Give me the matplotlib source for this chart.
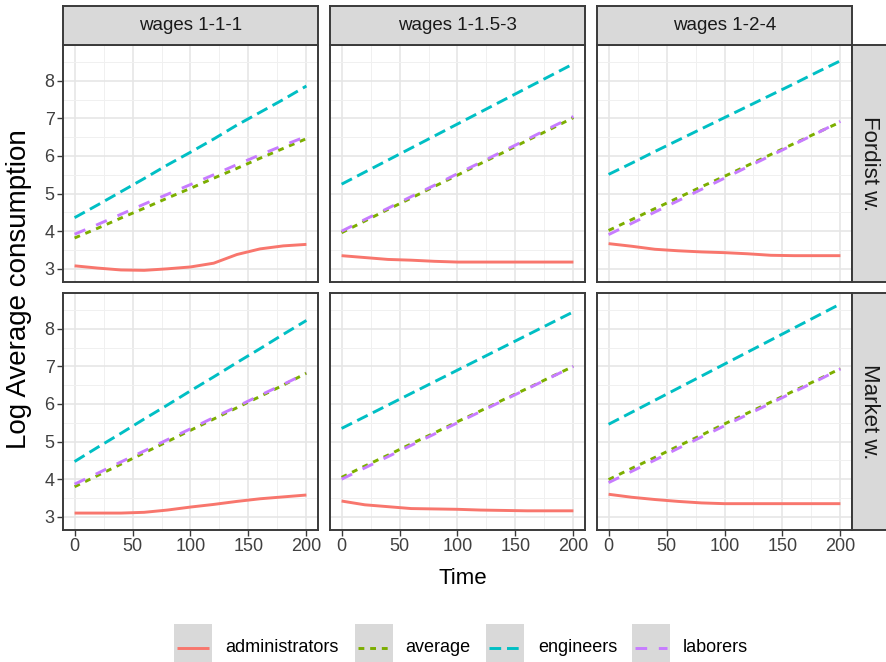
import matplotlib
matplotlib.use("Agg")
import matplotlib.pyplot as plt
from matplotlib.patches import Rectangle
from matplotlib.lines import Line2D

plt.rcParams['font.family'] = ['Liberation Sans', 'DejaVu Sans']

time = [0, 20, 40, 60, 80, 100, 120, 140, 160, 180, 200]
wage_labels = ['wages 1-1-1', 'wages 1-1.5-3', 'wages 1-2-4']
regime_labels = ['Fordist w.', 'Market w.']
groups = ['administrators', 'average', 'engineers', 'laborers']

# Fordist w.
f111_adm = [3.08, 3.02, 2.97, 2.96, 3.00, 3.05, 3.15, 3.38, 3.53, 3.61, 3.65]
f111_avg = [3.82, 4.08, 4.35, 4.61, 4.88, 5.14, 5.41, 5.67, 5.94, 6.20, 6.46]
f111_eng = [4.36, 4.70, 5.05, 5.40, 5.76, 6.10, 6.45, 6.82, 7.16, 7.50, 7.86]
f111_lab = [3.92, 4.18, 4.45, 4.72, 4.98, 5.24, 5.50, 5.77, 6.03, 6.28, 6.52]

f153_adm = [3.35, 3.30, 3.25, 3.23, 3.20, 3.18, 3.18, 3.18, 3.18, 3.18, 3.18]
f153_avg = [3.96, 4.27, 4.58, 4.88, 5.19, 5.49, 5.80, 6.10, 6.41, 6.71, 7.02]
f153_eng = [5.25, 5.57, 5.89, 6.21, 6.53, 6.85, 7.17, 7.49, 7.81, 8.13, 8.45]
f153_lab = [4.00, 4.31, 4.61, 4.92, 5.22, 5.53, 5.83, 6.14, 6.44, 6.75, 7.05]

f124_adm = [3.67, 3.60, 3.52, 3.48, 3.45, 3.43, 3.40, 3.36, 3.35, 3.35, 3.35]
f124_avg = [4.02, 4.31, 4.60, 4.89, 5.18, 5.46, 5.75, 6.04, 6.33, 6.62, 6.90]
f124_eng = [5.51, 5.81, 6.12, 6.42, 6.72, 7.02, 7.32, 7.62, 7.92, 8.23, 8.53]
f124_lab = [3.91, 4.21, 4.51, 4.81, 5.11, 5.41, 5.71, 6.01, 6.31, 6.61, 6.92]

# Market w.
m111_adm = [3.10, 3.10, 3.10, 3.12, 3.18, 3.26, 3.33, 3.41, 3.48, 3.53, 3.58]
m111_avg = [3.80, 4.10, 4.40, 4.70, 5.00, 5.30, 5.60, 5.90, 6.20, 6.50, 6.82]
m111_eng = [4.47, 4.85, 5.22, 5.60, 5.97, 6.35, 6.72, 7.10, 7.47, 7.85, 8.22]
m111_lab = [3.87, 4.16, 4.46, 4.75, 5.05, 5.34, 5.64, 5.93, 6.23, 6.52, 6.82]

m153_adm = [3.42, 3.32, 3.27, 3.22, 3.21, 3.20, 3.18, 3.17, 3.16, 3.16, 3.16]
m153_avg = [4.05, 4.35, 4.64, 4.94, 5.23, 5.53, 5.82, 6.12, 6.41, 6.71, 7.00]
m153_eng = [5.35, 5.66, 5.97, 6.28, 6.59, 6.90, 7.21, 7.52, 7.83, 8.14, 8.45]
m153_lab = [4.00, 4.30, 4.60, 4.90, 5.20, 5.50, 5.80, 6.10, 6.40, 6.70, 7.00]

m124_adm = [3.60, 3.52, 3.46, 3.41, 3.37, 3.35, 3.35, 3.35, 3.35, 3.35, 3.35]
m124_avg = [3.99, 4.29, 4.58, 4.88, 5.17, 5.47, 5.76, 6.05, 6.35, 6.64, 6.94]
m124_eng = [5.46, 5.78, 6.10, 6.42, 6.74, 7.06, 7.38, 7.70, 8.02, 8.34, 8.66]
m124_lab = [3.91, 4.21, 4.51, 4.82, 5.12, 5.42, 5.72, 6.02, 6.32, 6.62, 6.93]

panels = [
    [[f111_adm, f111_avg, f111_eng, f111_lab],
     [f153_adm, f153_avg, f153_eng, f153_lab],
     [f124_adm, f124_avg, f124_eng, f124_lab]],
    [[m111_adm, m111_avg, m111_eng, m111_lab],
     [m153_adm, m153_avg, m153_eng, m153_lab],
     [m124_adm, m124_avg, m124_eng, m124_lab]],
]

# ggplot hue palette + default linetypes (solid, 22, 42, 44)
colors = ['#F8766D', '#7CAE00', '#00BFC4', '#C77CFF']
dashes = [None, (2, 2), (4, 2), (4, 4)]
LW = 2.1

W, H = 887, 662
fig = plt.figure(figsize=(W / 100, H / 100), dpi=100)


def px_rect(l, t, w, h):
    return [l / W, 1 - (t + h) / H, w / W, h / H]


col_left = [63, 330, 597]
row_top = [45, 293]
pw, ph = 255, 237
border = '#3A3A3A'

for r in range(2):
    for c in range(3):
        ax = fig.add_axes(px_rect(col_left[c], row_top[r], pw, ph))
        for k in range(4):
            line, = ax.plot(time, panels[r][c][k], color=colors[k], lw=LW,
                            solid_capstyle='butt', dash_capstyle='butt')
            if dashes[k] is not None:
                line.set_dashes(dashes[k])
        ax.set_xlim(-10, 210)
        ax.set_ylim(2.65, 8.95)
        ax.set_xticks([0, 50, 100, 150, 200])
        ax.set_xticks([25, 75, 125, 175], minor=True)
        ax.set_yticks([3, 4, 5, 6, 7, 8])
        ax.set_yticks([3.5, 4.5, 5.5, 6.5, 7.5, 8.5], minor=True)
        ax.grid(which='major', color='#E6E6E6', lw=1.2)
        ax.grid(which='minor', color='#F0F0F0', lw=0.7)
        ax.set_axisbelow(True)
        for s in ax.spines.values():
            s.set_color(border)
            s.set_linewidth(1.4)
        ax.tick_params(which='minor', length=0)
        ax.tick_params(which='major', color=border, length=4, width=1,
                       labelsize=13, labelcolor='#404040', pad=2)
        if c != 0:
            ax.tick_params(axis='y', left=False, labelleft=False)
        if r != 1:
            ax.tick_params(axis='x', bottom=False, labelbottom=False)

        # strips
        if r == 0:
            sax = fig.add_axes(px_rect(col_left[c], 6, pw, 39))
            sax.set_facecolor('#D9D9D9')
            sax.set_xticks([])
            sax.set_yticks([])
            for s in sax.spines.values():
                s.set_color(border)
                s.set_linewidth(1.4)
            sax.text(0.5, 0.5, wage_labels[c], ha='center', va='center',
                     fontsize=13.5, color='#1A1A1A', transform=sax.transAxes)
        if c == 2:
            rax = fig.add_axes(px_rect(852, row_top[r], 44, ph))
            rax.set_facecolor('#D9D9D9')
            rax.set_xticks([])
            rax.set_yticks([])
            for s in rax.spines.values():
                s.set_color(border)
                s.set_linewidth(1.4)
            fig.text(870 / W, 1 - (row_top[r] + ph / 2) / H, regime_labels[r],
                     rotation=-90, ha='center', va='center', fontsize=16,
                     color='#1A1A1A')

fig.text(19 / W, 1 - 289 / H, 'Log Average consumption', rotation=90,
         ha='center', va='center', fontsize=20)
fig.text(463 / W, 1 - 578 / H, 'Time', ha='center', va='center', fontsize=16)

# legend at bottom, drawn in pixel space
lax = fig.add_axes([0, 0, 1, 1], zorder=-1)
lax.set_xlim(0, W)
lax.set_ylim(H, 0)
lax.axis('off')
key_x = [174, 355, 486, 632]
text_x = [225, 405, 538, 683]
for k in range(4):
    lax.add_patch(Rectangle((key_x[k], 624), 38, 42, facecolor='#D9D9D9',
                            edgecolor='none'))
    ln = Line2D([key_x[k] + 3, key_x[k] + 35], [648, 648], color=colors[k],
                lw=LW, solid_capstyle='butt', dash_capstyle='butt')
    if dashes[k] is not None:
        ln.set_dashes(dashes[k])
    lax.add_line(ln)
    lax.text(text_x[k], 648, groups[k], ha='left', va='center', fontsize=13)

fig.savefig('out.png', dpi=100)
